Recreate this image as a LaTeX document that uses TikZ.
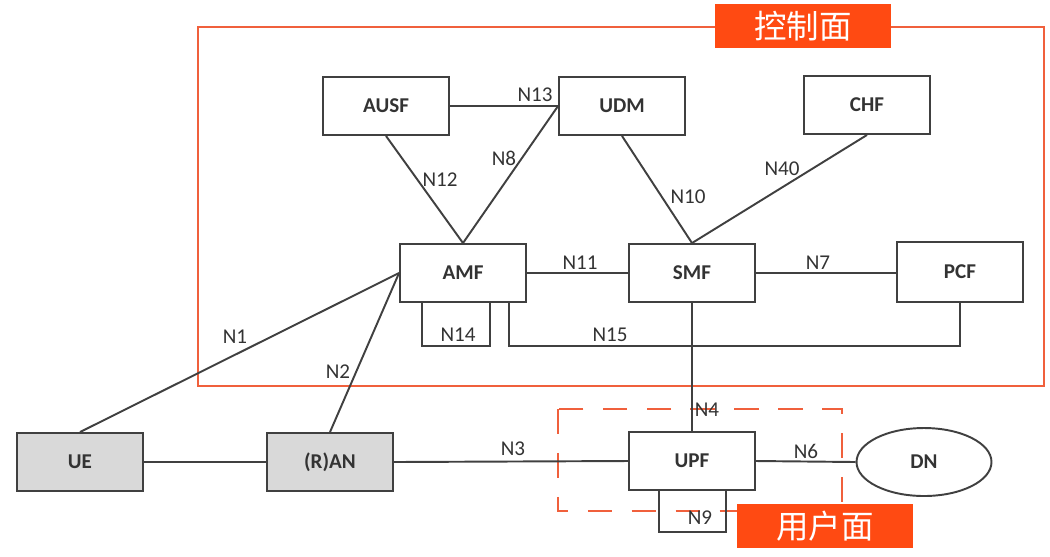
\documentclass[tikz,border=0pt]{standalone}
\usepackage{fontspec}
\setmainfont{Carlito}
\newfontfamily\cjk{Noto Sans CJK SC}
\usetikzlibrary{shapes.geometric,calc}
\definecolor{ln}{HTML}{404040}
\definecolor{rd}{HTML}{F0603C}
\definecolor{tagc}{HTML}{FF4A12}
\definecolor{gfill}{HTML}{D9D9D9}
\tikzset{
  nf/.style={draw=ln, line width=1.1pt, minimum width=2.52cm, minimum height=1.16cm, inner sep=0pt, font=\bfseries\fontsize{12}{14}\selectfont, text=black!80},
  gnf/.style={nf, fill=gfill},
  lab/.style={font=\fontsize{12}{14}\selectfont, text=black!80, inner sep=0pt},
  conn/.style={draw=ln, line width=1.1pt},
  tagbox/.style={fill=tagc, text=white, font=\cjk\fontsize{18.5}{20}\selectfont, inner sep=0pt, minimum width=3.52cm, minimum height=0.88cm},
  plane/.style={draw=rd, line width=1.2pt}
}
\begin{document}
\begin{tikzpicture}[x=0.02cm, y=-0.02cm]
\useasboundingbox (0,0) rectangle (1050,556);
% control plane frame
\draw[plane] (198,27) rectangle (1044,386);
% user plane dashed frame
\draw[plane, dash pattern=on 14pt off 11pt] (558,409) rectangle (842,511);
% nodes
\node[nf] (AUSF) at (386,106) {AUSF};
\node[nf] (UDM) at (622,106) {UDM};
\node[nf] (CHF) at (867,105) {CHF};
\node[nf] (AMF) at (463,273) {AMF};
\node[nf] (SMF) at (692,273) {SMF};
\node[nf, minimum height=1.2cm] (PCF) at (960,272) {PCF};
\node[gnf] (UE) at (80,462) {UE};
\node[gnf] (RAN) at (330,462) {(R)AN};
\node[nf, fill=white] (UPF) at (692,461) {UPF};
\node[nf, ellipse, minimum width=2.7cm, minimum height=1.36cm] (DN) at (924,462) {DN};
% connectors
\draw[conn] (AUSF.east) -- (UDM.west);
\draw[conn] (AUSF.south) -- (AMF.north);
\draw[conn] (AMF.north) -- (UDM.west);
\draw[conn] (UDM.south) -- (SMF.north);
\draw[conn] (CHF.south) -- (SMF.north);
\draw[conn] (AMF.east) -- (SMF.west);
\draw[conn] (SMF.east) -- (SMF.east -| PCF.west);
\draw[conn] (SMF.south) -- (UPF.north);
\draw[conn] (UE.north) -- (AMF.west);
\draw[conn] (RAN.north) -- (AMF.west);
\draw[conn] (UE.east) -- (RAN.west);
\draw[conn] (RAN.east) -- (UPF.west);
\draw[conn] (UPF.east) -- (DN.west);
\draw[conn] ([xshift=0.46cm]AMF.south west) -- ++(0,43) -| ([xshift=1.82cm]AMF.south west);
\draw[conn] ([xshift=-0.36cm]AMF.south east) -- ++(0,43) -| (PCF.south);
\draw[conn] ([xshift=-0.66cm]UPF.south) -- ++(0,41) -| ([xshift=0.68cm]UPF.south);
% labels
\node[lab] (lN13) at (535,95) {N13};
\node[lab] (lN12) at (440,180) {N12};
\node[lab] (lN8) at (504,158) {N8};
\node[lab] (lN10) at (688,197) {N10};
\node[lab] (lN40) at (782,169) {N40};
\node[lab] (lN11) at (580,263) {N11};
\node[lab] (lN7) at (818,263) {N7};
\node[lab] (lN15) at (610,335) {N15};
\node[lab] (lN14) at (458,335) {N14};
\node[lab] (lN1) at (235,337) {N1};
\node[lab] (lN2) at (338,372) {N2};
\node[lab] (lN4) at (707,410) {N4};
\node[lab] (lN3) at (513,449) {N3};
\node[lab] (lN6) at (806,451) {N6};
\node[lab] (lN9) at (700,518) {N9};
% tags
\node[tagbox] (tagCP) at (803,26) {控制面};
\node[tagbox] (tagUP) at (825,526) {用户面};
\end{tikzpicture}
\end{document}
